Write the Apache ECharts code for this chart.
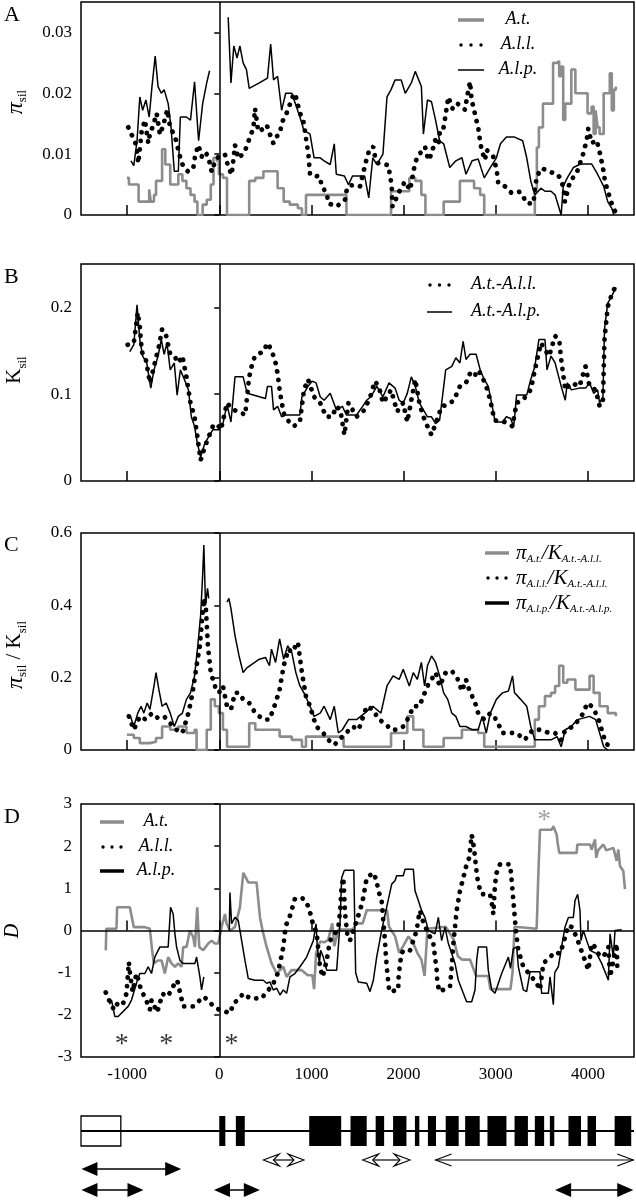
<!DOCTYPE html>
<html><head><meta charset="utf-8">
<script src="https://cdn.jsdelivr.net/npm/echarts@6/dist/echarts.min.js"></script>
<style>html,body{margin:0;padding:0;background:#fff}#c{width:636px;height:1200px}</style>
</head><body><div id="c"></div>
<script>
// ---------- ticks ----------
const xTicks = [-1000, 0, 1000, 2000, 3000, 4000];
const aTicks = [0, 0.01, 0.02, 0.03];
const bTicks = [0, 0.1, 0.2];
const cTicks = [0, 0.2, 0.4, 0.6];
const dTicks = [-3, -2, -1, 0, 1, 2, 3];

// ---------- panel A : pi_sil ----------
const piAt = [[-1002,0.0061],[-980,0.0050],[-875,0.0022],[-760,0.0042],[-743,0.0022],[-708,0.0033],[-686,0.0056],[-620,0.0108],[-585,0.0083],[-532,0.0050],[-444,0.0067],[-400,0.0056],[-356,0.0044],[-312,0.0033],[-268,0.0022],[-237,0],[-180,0.0017],[-136,0.0025],[-92,0.0050],[-62,0.0094],[-26,0.0089],[-4,0.0067],[40,0.0061],[84,0],[325,0.0056],[391,0.0061],[479,0.0072],[633,0.0044],[699,0.0022],[765,0.0017],[853,0.0011],[897,0],[941,0.0033],[1380,0],[1864,0.0039],[2062,0.0061],[2127,0.0056],[2193,0.0033],[2237,0],[2435,0.0022],[2611,0.0056],[2765,0.0044],[2831,0.0033],[2875,0],[3424,0.0044],[3446,0.0111],[3468,0.0144],[3512,0.0183],[3622,0.0250],[3666,0.0253],[3688,0.0228],[3710,0.0244],[3732,0.0156],[3754,0.0183],[3820,0.0239],[3864,0.0200],[3996,0.0167],[4040,0.0178],[4062,0.0133],[4084,0.0172],[4105,0.0144],[4127,0.0133],[4171,0.0200],[4237,0.0233],[4259,0.0172],[4281,0.0206],[4303,0.0211]];
const piAll = [[-987,0.0144],[-914,0.0120],[-896,0.0112],[-878,0.0085],[-842,0.0137],[-806,0.0156],[-770,0.0118],[-751,0.0134],[-715,0.0148],[-679,0.0167],[-643,0.0132],[-607,0.0148],[-564,0.0173],[-534,0.0145],[-480,0.0129],[-462,0.0118],[-426,0.0096],[-390,0.0079],[-336,0.0071],[-282,0.0077],[-263,0.0096],[-227,0.0115],[-190,0.0096],[-155,0.0104],[-119,0.0096],[-82,0.0071],[-46,0.0088],[8,0.0099],[62,0.0099],[98,0.0079],[135,0.0066],[171,0.0115],[207,0.0093],[261,0.0101],[298,0.0112],[334,0.0129],[370,0.0142],[388,0.0175],[424,0.0137],[460,0.0140],[515,0.0148],[551,0.0132],[587,0.0118],[623,0.0129],[659,0.0134],[677,0.0151],[713,0.0162],[749,0.0173],[786,0.0192],[822,0.0200],[858,0.0178],[876,0.0167],[912,0.0156],[949,0.0118],[967,0.0101],[985,0.0066],[1093,0.0063],[1111,0.0047],[1166,0.0036],[1184,0.0019],[1274,0.0014],[1364,0.0025],[1383,0.0041],[1418,0.0049],[1527,0.0047],[1600,0.0093],[1635,0.0110],[1672,0.0112],[1690,0.0096],[1726,0.0085],[1834,0.0082],[1852,0.0066],[1870,0.0049],[1880,0.0014],[1961,0.0041],[2015,0.0055],[2070,0.0041],[2124,0.0085],[2160,0.0099],[2197,0.0104],[2233,0.0112],[2269,0.0090],[2305,0.0101],[2342,0.0123],[2378,0.0115],[2396,0.0140],[2432,0.0142],[2450,0.0159],[2486,0.0194],[2530,0.0175],[2576,0.0184],[2630,0.0178],[2666,0.0173],[2684,0.0189],[2703,0.0205],[2721,0.0219],[2739,0.0189],[2764,0.0173],[2811,0.0142],[2829,0.0123],[2847,0.0107],[2883,0.0090],[2901,0.0107],[2973,0.0096],[3010,0.0074],[3027,0.0052],[3100,0.0047],[3173,0.0036],[3263,0.0038],[3299,0.0030],[3336,0.0019],[3408,0.0019],[3444,0.0063],[3499,0.0077],[3589,0.0071],[3679,0.0066],[3733,0.0047],[3750,0.0022],[3805,0.0055],[3878,0.0069],[3914,0.0085],[3950,0.0101],[3986,0.0123],[4004,0.0142],[4041,0.0118],[4095,0.0123],[4131,0.0101],[4167,0.0074],[4185,0.0055],[4222,0.0036],[4258,0.0019],[4312,0]];
const piAlp = [[-958,0.0089],[-927,0.0081],[-892,0.0122],[-862,0.0194],[-831,0.0172],[-796,0.0189],[-760,0.0161],[-730,0.0211],[-695,0.0261],[-664,0.0211],[-629,0.0200],[-598,0.0206],[-554,0.0183],[-523,0.0144],[-488,0.0072],[-444,0.0072],[-422,0.0161],[-356,0.0161],[-312,0.0156],[-268,0.0219],[-224,0.0122],[-180,0.0183],[-136,0.0217],[-105,0.0237],[0,'-'],[97,0.0325],[127,0.0217],[158,0.0278],[193,0.0258],[224,0.0278],[259,0.0250],[295,0.0239],[325,0.0208],[435,0.0217],[523,0.0225],[558,0.0281],[589,0.0222],[633,0.0228],[677,0.0172],[721,0.0200],[787,0.0200],[875,0.0161],[919,0.0139],[985,0.0133],[1029,0.0094],[1095,0.0094],[1138,0.0089],[1204,0.0083],[1248,0.0117],[1270,0.0067],[1358,0.0064],[1402,0.0050],[1446,0.0064],[1578,0.0064],[1622,0.0028],[1666,0.0094],[1710,0.0083],[1776,0.0100],[1820,0.0194],[1864,0.0206],[1908,0.0222],[1974,0.0222],[2018,0.0200],[2084,0.0217],[2127,0.0236],[2193,0.0211],[2215,0.0133],[2259,0.0189],[2303,0.0186],[2347,0.0156],[2391,0.0122],[2435,0.0117],[2501,0.0078],[2567,0.0089],[2633,0.0094],[2677,0.0067],[2743,0.0089],[2809,0.0092],[2875,0.0061],[2941,0.0078],[3007,0.0094],[3051,0.0117],[3116,0.0128],[3204,0.0128],[3292,0.0122],[3336,0.0094],[3380,0.0056],[3424,0.0033],[3490,0.0044],[3534,0.0039],[3600,0.0039],[3644,0.0033],[3710,0],[3732,0.0047],[3776,0.0061],[3842,0.0078],[3908,0.0083],[3952,0.0084],[4040,0.0084],[4105,0.0067],[4171,0.0047],[4215,0.0022],[4259,0.0011],[4281,0]];

// ---------- panel B : K_sil ----------
const kAll = [[-993,0.157],[-927,0.159],[-884,0.194],[-862,0.178],[-840,0.149],[-796,0.140],[-752,0.113],[-708,0.132],[-655,0.155],[-620,0.175],[-576,0.167],[-532,0.146],[-488,0.144],[-444,0.136],[-400,0.144],[-356,0.120],[-312,0.090],[-268,0.074],[-237,0.051],[-202,0.024],[-158,0.039],[-114,0.051],[-70,0.063],[-26,0.066],[18,0.059],[84,0.090],[149,0.082],[215,0.080],[281,0.076],[325,0.120],[369,0.140],[413,0.146],[479,0.149],[523,0.159],[567,0.151],[611,0.136],[633,0.124],[655,0.105],[699,0.078],[743,0.070],[809,0.063],[875,0.068],[919,0.105],[963,0.117],[1029,0.097],[1095,0.090],[1160,0.074],[1226,0.074],[1270,0.086],[1314,0.082],[1358,0.053],[1402,0.090],[1490,0.074],[1578,0.082],[1644,0.099],[1688,0.115],[1732,0.109],[1776,0.090],[1820,0.097],[1864,0.105],[1930,0.080],[1996,0.090],[2040,0.068],[2084,0.093],[2127,0.117],[2171,0.090],[2215,0.074],[2259,0.063],[2303,0.053],[2347,0.066],[2413,0.086],[2479,0.088],[2545,0.093],[2611,0.109],[2677,0.113],[2721,0.124],[2765,0.120],[2809,0.128],[2853,0.120],[2897,0.109],[2941,0.093],[2985,0.070],[3095,0.068],[3182,0.063],[3226,0.090],[3292,0.093],[3380,0.105],[3424,0.128],[3490,0.159],[3534,0.151],[3578,0.144],[3644,0.167],[3688,0.163],[3710,0.140],[3754,0.105],[3820,0.113],[3908,0.109],[3974,0.132],[4018,0.109],[4084,0.105],[4127,0.086],[4163,0.093],[4180,0.163],[4215,0.201],[4259,0.215],[4303,0.225]];
const kAlp = [[-971,0.149],[-927,0.157],[-892,0.203],[-862,0.163],[-831,0.144],[-787,0.136],[-743,0.107],[-708,0.128],[-664,0.144],[-629,0.163],[-598,0.146],[-567,0.159],[-532,0.128],[-488,0.136],[-457,0.099],[-422,0.128],[-378,0.117],[-334,0.105],[-303,0.074],[-268,0.063],[-237,0.043],[-202,0.028],[-158,0.043],[-114,0.051],[-70,0.059],[-4,0.059],[40,0.066],[84,0.088],[127,0.068],[171,0.120],[259,0.120],[303,0.101],[501,0.095],[523,0.109],[567,0.109],[589,0.082],[633,0.086],[677,0.074],[721,0.076],[875,0.076],[897,0.097],[963,0.109],[1007,0.115],[1051,0.113],[1095,0.097],[1138,0.093],[1204,0.101],[1270,0.082],[1336,0.086],[1380,0.076],[1490,0.076],[1556,0.086],[1600,0.093],[1644,0.097],[1710,0.109],[1776,0.097],[1842,0.113],[1908,0.107],[1952,0.093],[1996,0.090],[2040,0.101],[2084,0.120],[2127,0.109],[2171,0.090],[2215,0.082],[2259,0.074],[2303,0.074],[2347,0.066],[2391,0.070],[2457,0.128],[2523,0.132],[2567,0.142],[2611,0.136],[2646,0.161],[2677,0.140],[2721,0.146],[2787,0.146],[2831,0.128],[2875,0.117],[2919,0.109],[2962,0.086],[2993,0.068],[3073,0.068],[3116,0.074],[3160,0.072],[3195,0.063],[3226,0.099],[3336,0.099],[3380,0.117],[3424,0.132],[3468,0.163],[3534,0.163],[3556,0.128],[3600,0.144],[3644,0.136],[3710,0.109],[3754,0.093],[3776,0.113],[3820,0.105],[3908,0.107],[3974,0.107],[4018,0.113],[4062,0.101],[4105,0.105],[4127,0.090],[4163,0.097],[4180,0.175],[4215,0.205],[4259,0.213],[4303,0.223]];

// ---------- panel C : pi / K ----------
const rAt = [[-1002,0.042],[-927,0.033],[-862,0.019],[-752,0.023],[-686,0.033],[-620,0.065],[-532,0.056],[-444,0.065],[-356,0.047],[-268,0.056],[-246,0],[-136,0.056],[-92,0.140],[-48,0.121],[-4,0.102],[40,0.056],[84,0.009],[325,0.074],[391,0.056],[655,0.037],[787,0.028],[897,0.009],[941,0.037],[1349,0.009],[1864,0.047],[2040,0.093],[2105,0.056],[2215,0.009],[2435,0.033],[2633,0.056],[2809,0.047],[2875,0.009],[3424,0.084],[3468,0.121],[3534,0.149],[3600,0.158],[3644,0.177],[3688,0.233],[3732,0.186],[3776,0.195],[3864,0.167],[4018,0.205],[4062,0.158],[4127,0.121],[4215,0.102],[4303,0.093]];
const rAll = [[-980,0.093],[-927,0.056],[-862,0.093],[-796,0.084],[-730,0.102],[-664,0.088],[-598,0.093],[-532,0.074],[-466,0.056],[-400,0.047],[-334,0.102],[-290,0.158],[-246,0.233],[-211,0.288],[-189,0.353],[-167,0.419],[-145,0.391],[-123,0.288],[-92,0.214],[-48,0.177],[-4,0.158],[40,0.177],[84,0.121],[127,0.112],[171,0.158],[215,0.158],[259,0.140],[325,0.130],[391,0.102],[479,0.084],[545,0.084],[611,0.130],[655,0.167],[699,0.233],[752,0.279],[787,0.270],[853,0.298],[897,0.214],[941,0.149],[985,0.121],[1051,0.065],[1116,0.051],[1182,0.028],[1248,0.014],[1336,0.037],[1446,0.065],[1512,0.056],[1600,0.121],[1666,0.112],[1732,0.084],[1798,0.074],[1864,0.056],[1930,0.056],[1996,0.065],[2062,0.093],[2105,0.121],[2171,0.121],[2215,0.149],[2259,0.177],[2303,0.195],[2347,0.214],[2391,0.177],[2457,0.214],[2523,0.219],[2589,0.195],[2633,0.163],[2677,0.195],[2721,0.158],[2765,0.140],[2809,0.102],[2875,0.084],[2941,0.102],[3007,0.084],[3073,0.047],[3160,0.047],[3226,0.047],[3314,0.028],[3402,0.056],[3490,0.056],[3578,0.047],[3644,0.047],[3710,0.028],[3754,0.056],[3842,0.065],[3930,0.093],[3996,0.130],[4040,0.121],[4105,0.093],[4149,0.056],[4193,0.019],[4259,0.005]];
const rAlp = [[-963,0.093],[-927,0.065],[-884,0.102],[-848,0.121],[-818,0.102],[-782,0.130],[-752,0.112],[-708,0.177],[-686,0.214],[-655,0.167],[-620,0.121],[-576,0.130],[-532,0.102],[-488,0.065],[-444,0.093],[-400,0.102],[-356,0.140],[-312,0.158],[-268,0.205],[-233,0.288],[-202,0.372],[-180,0.484],[-167,0.567],[-149,0.400],[-127,0.447],[-114,0.419],[0,'-'],[84,0.409],[105,0.419],[127,0.391],[171,0.316],[215,0.260],[259,0.214],[303,0.228],[435,0.251],[501,0.256],[545,0.233],[567,0.279],[611,0.242],[655,0.307],[699,0.251],[743,0.288],[787,0.270],[831,0.214],[875,0.177],[919,0.158],[985,0.121],[1029,0.093],[1095,0.102],[1138,0.121],[1204,0.084],[1248,0.121],[1292,0.047],[1336,0.056],[1402,0.084],[1490,0.084],[1578,0.102],[1666,0.121],[1754,0.102],[1820,0.177],[1886,0.205],[1952,0.195],[1996,0.223],[2062,0.177],[2105,0.214],[2149,0.195],[2193,0.242],[2228,0.177],[2259,0.233],[2303,0.260],[2347,0.242],[2391,0.205],[2435,0.158],[2479,0.140],[2523,0.102],[2567,0.093],[2611,0.065],[2677,0.065],[2743,0.056],[2809,0.056],[2853,0.093],[2897,0.047],[2941,0.102],[3007,0.140],[3073,0.158],[3138,0.163],[3182,0.205],[3204,0.158],[3270,0.140],[3336,0.121],[3380,0.065],[3424,0.028],[3600,0.028],[3666,0.037],[3710,0.009],[3754,0.056],[3820,0.065],[3886,0.084],[4018,0.093],[4084,0.084],[4127,0.047],[4171,0.009],[4215,0]];

// ---------- panel D : Tajima's D ----------
const dAt = [[-1231,-0.47],[-1225,0.04],[-1115,0.04],[-1108,0.55],[-970,0.55],[-952,0.35],[-927,0.08],[-807,0.08],[-753,0.04],[-728,-0.47],[-710,-0.78],[-666,-0.71],[-626,-0.71],[-590,-1.02],[-554,-0.63],[-518,-0.78],[-481,-0.86],[-445,-0.78],[-409,-0.86],[-391,-0.39],[-355,-0.39],[-319,0],[-282,-0.16],[-264,-0.39],[-239,0.55],[-217,-0.39],[-174,-0.47],[-119,-0.31],[-83,-0.24],[-47,-0.31],[-11,-0.31],[25,0.08],[62,0.39],[80,0.16],[116,0],[170,0.08],[224,0.55],[261,1.37],[315,1.14],[405,1.14],[442,0.31],[470,0],[514,-0.39],[568,-0.78],[622,-1.02],[695,-0.86],[731,-1.1],[785,-0.94],[894,-0.94],[960,-1.06],[1010,-1.06],[1029,-1.39],[1051,-0.53],[1095,-0.26],[1138,-0.28],[1182,-0.22],[1226,0.17],[1248,-0.37],[1292,0.02],[1446,0.02],[1490,0.17],[1556,0.17],[1600,0.48],[1820,0.48],[1842,0.09],[1908,-0.14],[1952,-0.53],[1996,-0.37],[2053,-0.14],[2105,-0.3],[2149,-0.53],[2193,-0.69],[2228,-1.08],[2259,0.04],[2457,0.09],[2545,-0.22],[2589,-0.61],[2633,-0.69],[2721,-0.69],[2787,-1.08],[2919,-1.08],[2941,-1.39],[3160,-1.39],[3182,-1.0],[3204,0.09],[3444,0.04],[3462,1.33],[3480,2.39],[3607,2.39],[3625,2.47],[3661,2.27],[3679,1.96],[3690,1.84],[3878,1.84],[3885,2.04],[4023,2.04],[4040,1.92],[4077,2.16],[4090,1.73],[4110,1.9],[4167,2.04],[4200,1.9],[4276,1.96],[4312,1.65],[4330,1.92],[4348,1.53],[4384,1.41],[4402,0.98]];
const dAll = [[-1231,-1.47],[-1195,-1.65],[-1169,-1.8],[-1133,-1.88],[-1097,-1.69],[-1043,-1.73],[-1006,-1.49],[-981,-0.75],[-970,-0.98],[-941,-1.45],[-898,-1.02],[-843,-1.45],[-807,-1.57],[-753,-1.88],[-735,-1.65],[-673,-1.94],[-615,-1.5],[-565,-1.57],[-528,-1.45],[-492,-1.29],[-456,-1.18],[-427,-1.45],[-391,-1.8],[-282,-1.8],[-228,-1.69],[-174,-1.57],[-119,-1.65],[-65,-1.8],[0,-1.88],[62,-1.92],[116,-1.96],[159,-1.71],[206,-1.65],[261,-1.49],[333,-1.61],[460,-1.61],[514,-1.45],[568,-1.33],[623,-1.1],[659,-0.78],[695,-0.39],[713,-0.04],[731,0.16],[767,0.35],[821,0.75],[894,0.78],[948,0.67],[985,0.43],[1021,0.12],[1057,-0.04],[1075,-0.47],[1093,-0.86],[1122,-1.1],[1166,-0.71],[1202,-0.24],[1245,-0.12],[1292,0.08],[1310,0.43],[1328,1.06],[1347,1.25],[1365,0.4],[1390,-0.1],[1418,-0.24],[1470,0.1],[1527,0.47],[1563,0.78],[1600,1.25],[1672,1.37],[1708,1.18],[1726,0.94],[1762,0.71],[1780,0.24],[1798,-0.24],[1809,-0.63],[1824,-1.02],[1845,-1.45],[1943,-1.41],[1943,-1.18],[1961,-0.78],[1979,-0.55],[1997,-0.47],[2070,-0.47],[2142,0],[2160,0.27],[2178,0.47],[2214,0.2],[2269,-0.08],[2323,-0.31],[2341,-0.63],[2359,-0.94],[2366,-1.22],[2388,-1.45],[2504,-1.33],[2522,-0.86],[2540,-0.31],[2558,0.08],[2576,0.47],[2612,0.94],[2648,1.25],[2684,1.57],[2713,1.73],[2739,2.27],[2764,1.96],[2775,1.73],[2793,1.37],[2811,1.1],[2847,0.86],[2938,0.86],[2956,0.67],[2974,0.39],[2992,1.1],[3010,1.37],[3046,1.57],[3155,1.57],[3173,1.18],[3191,0.71],[3209,0.24],[3227,-0.16],[3245,-0.47],[3299,-0.86],[3390,-1.1],[3444,-1.25],[3480,-1.41],[3516,-0.78],[3589,-0.63],[3643,-0.51],[3697,-0.55],[3733,-0.31],[3788,0.12],[3824,0.08],[3878,-0.16],[3914,-0.39],[3968,-0.71],[4005,-0.94],[4041,-0.31],[4077,-0.39],[4113,-0.55],[4167,-0.63],[4222,-0.39],[4240,-1.1],[4276,-0.71],[4312,-0.31],[4320,-1.02]];
const dAlp = [[-1190,-1.75],[-1169,-1.65],[-1133,-2.04],[-1097,-2.04],[-988,-1.8],[-952,-1.65],[-898,-1.25],[-862,-1.02],[-807,-1.02],[-771,-0.86],[-735,-1.02],[-699,-0.63],[-644,-0.39],[-554,-0.39],[-528,0.55],[-500,0.39],[-481,-0.08],[-463,-0.39],[-427,-0.71],[-391,-0.78],[-264,-0.78],[-246,-0.63],[-210,-1.1],[-192,-1.41],[-167,-1.1],[0,'-'],[109,0],[116,0.9],[134,0.16],[170,0.31],[206,0.24],[243,-0.24],[279,-0.71],[315,-1.14],[387,-1.18],[478,-1.18],[514,-1.25],[550,-1.22],[586,-1.41],[623,-1.37],[659,-1.53],[695,-1.41],[731,-1.49],[767,-1.1],[821,-1.02],[876,-0.86],[948,-0.63],[1021,-0.24],[1050,0.16],[1064,-0.39],[1086,-0.78],[1100,-0.47],[1129,-0.63],[1166,-0.94],[1274,-0.94],[1292,-0.39],[1310,0.16],[1328,1.25],[1358,1.43],[1460,1.43],[1480,-1.0],[1509,-1.22],[1600,-1.25],[1636,-1.45],[1672,-1.18],[1708,-0.63],[1762,0],[1816,0.55],[1871,1.1],[1907,1.18],[1925,1.3],[1997,1.3],[2015,1.45],[2106,1.45],[2124,0.94],[2160,0.71],[2196,0.47],[2232,0.31],[2269,0],[2341,-0.08],[2377,0.31],[2413,-0.24],[2449,0.08],[2486,-0.31],[2558,-0.78],[2594,-1.18],[2648,-1.49],[2684,-1.69],[2739,-1.69],[2775,-1.41],[2793,-0.71],[2811,-0.39],[2901,-0.39],[2919,-0.94],[2956,-1.41],[2992,-1.49],[3064,-1.02],[3137,-0.63],[3160,-0.9],[3191,-0.43],[3227,-0.39],[3245,-0.86],[3299,-1.41],[3335,-1.45],[3372,-0.98],[3480,-0.98],[3498,-1.49],[3571,-1.49],[3589,-1.1],[3625,-1.76],[3640,-1.0],[3679,-0.86],[3715,-0.39],[3751,0.08],[3788,0.31],[3842,0.31],[3860,0.71],[3889,0.86],[3914,0.47],[3925,-0.24],[3950,0],[3987,-0.24],[4023,-0.47],[4095,-0.55],[4149,-0.78],[4222,-1.18],[4240,-0.08],[4276,-0.63],[4294,0],[4366,0.02]];
const starsBlack = [[-1059,-2.7],[-576,-2.7],[132,-2.7]];
const starsGray = [[3525,2.6]];

// ---------- gene model ----------
const geneSpan = [[-1500, 4500]];
const utrBox = [[-1500, -1068]];
const exons = [[0,66],[180,277],[976,1323],[1424,1600],[1697,1789],[1886,2031],[2123,2171],[2264,2352],[2457,2598],[2668,2826],[2910,3116],[3204,3349],[3424,3525],[3587,3635],[3789,3925],[3996,4088],[4290,4470]];
// [start, end, row(0 open,1 black upper,2 black lower), style(0 filled,1 open barbed,2 open chevron)]
const arrows = [[479,919,0,1],[1556,2070,0,1],[2347,4492,0,2],[-1495,-413,1,0],[-1495,-822,2,0],[-57,440,2,0],[3644,4492,2,0]];

// ---------- chart ----------
const FONT = 'Liberation Serif';
const GRAY = '#8c8c8c';
const chart = echarts.init(document.getElementById('c'), null, {renderer: 'canvas'});

const gridDefs = [
  {top: 2, height: 213}, {top: 264, height: 217}, {top: 533, height: 217}, {top: 804, height: 253}, {top: 1105, height: 95}
];
const grids = gridDefs.map((g, i) => ({
  left: 81, width: 553, top: g.top, height: g.height, show: i < 4,
  borderColor: '#000', borderWidth: 1.5, backgroundColor: 'transparent', outerBoundsMode: 'none', containLabel: false
}));

const xAxes = [0,1,2,3,4].map(i => ({
  type: 'value', gridIndex: i, min: -1500, max: 4500, show: i < 4,
  axisLine: {show: false}, splitLine: {show: false},
  axisTick: {show: i < 4, inside: true, length: 10, customValues: xTicks, lineStyle: {color: '#000', width: 1.5}},
  axisLabel: {show: i === 3, customValues: xTicks, color: '#000', fontFamily: FONT, fontSize: 17, margin: 9, formatter: v => String(v)}
}));
const yDefs = [[0, 0.035, aTicks], [0, 0.25, bTicks], [0, 0.6, cTicks], [-3, 3, dTicks]];
const yAxes = yDefs.map((d, i) => ({
  type: 'value', gridIndex: i, min: d[0], max: d[1],
  axisLine: {show: false}, splitLine: {show: false},
  axisTick: {show: true, inside: false, length: 5, customValues: d[2], lineStyle: {color: '#000', width: 1.5}},
  axisLabel: {customValues: d[2], color: '#000', fontFamily: FONT, fontSize: 17, margin: 9, formatter: v => String(v)}
}));
yAxes.push({type: 'value', gridIndex: 4, min: 0, max: 95, inverse: true, show: false});

const vLine = (extra) => ({
  silent: true, symbol: ['none', 'none'], label: {show: false}, animation: false,
  lineStyle: {color: '#000', width: 1.5, type: 'solid'},
  data: [{xAxis: 0}].concat(extra || [])
});
function line(data, gi, kind, opts) {
  const s = {type: 'line', xAxisIndex: gi, yAxisIndex: gi, data: data, symbol: 'none', showSymbol: false,
    animation: false, silent: true, connectNulls: false};
  if (kind === 'gray') { s.lineStyle = {color: GRAY, width: 2.6}; s.z = 2; }
  if (kind === 'dots') { s.lineStyle = {color: '#000', width: 4.8, type: [0.1, 8.5], cap: 'round'}; s.z = 3; }
  if (kind === 'black') { s.lineStyle = {color: '#000', width: 1.5}; s.z = 4; }
  return Object.assign(s, opts || {});
}

const series = [
  line(piAt, 0, 'gray', {step: 'end'}), line(piAll, 0, 'dots'), line(piAlp, 0, 'black', {markLine: vLine()}),
  line(kAll, 1, 'dots'), line(kAlp, 1, 'black', {markLine: vLine()}),
  line(rAt, 2, 'gray', {step: 'end'}), line(rAll, 2, 'dots'), line(rAlp, 2, 'black', {markLine: vLine()}),
  line(dAt, 3, 'gray'), line(dAll, 3, 'dots'), line(dAlp, 3, 'black', {markLine: vLine([{yAxis: 0}])}),
  {type: 'scatter', xAxisIndex: 3, yAxisIndex: 3, data: starsBlack, symbolSize: 1, itemStyle: {color: 'rgba(0,0,0,0)'}, silent: true, animation: false,
   label: {show: true, position: 'inside', formatter: '*', color: '#000', fontFamily: FONT, fontSize: 28}},
  {type: 'scatter', xAxisIndex: 3, yAxisIndex: 3, data: starsGray, symbolSize: 1, itemStyle: {color: 'rgba(0,0,0,0)'}, silent: true, animation: false,
   label: {show: true, position: 'inside', formatter: '*', color: GRAY, fontFamily: FONT, fontSize: 28}},
  // gene model
  {type: 'custom', xAxisIndex: 4, yAxisIndex: 4, data: utrBox, silent: true, animation: false, z: 1,
   renderItem: (p, api) => { const a = api.coord([api.value(0), 11]), b = api.coord([api.value(1), 41]);
     return {type: 'rect', shape: {x: a[0], y: a[1], width: b[0] - a[0], height: b[1] - a[1]}, style: {fill: '#fff', stroke: '#000', lineWidth: 1.3}}; }},
  {type: 'custom', xAxisIndex: 4, yAxisIndex: 4, data: geneSpan, silent: true, animation: false, z: 2,
   renderItem: (p, api) => { const a = api.coord([api.value(0), 26]), b = api.coord([api.value(1), 26]);
     return {type: 'line', shape: {x1: a[0], y1: a[1], x2: b[0], y2: b[1]}, style: {stroke: '#000', lineWidth: 2}}; }},
  {type: 'custom', xAxisIndex: 4, yAxisIndex: 4, data: exons, silent: true, animation: false, z: 3,
   renderItem: (p, api) => { const a = api.coord([api.value(0), 11]), b = api.coord([api.value(1), 41]);
     return {type: 'rect', shape: {x: a[0], y: a[1], width: b[0] - a[0], height: b[1] - a[1]}, style: {fill: '#000'}}; }},
  {type: 'custom', xAxisIndex: 4, yAxisIndex: 4, data: arrows, silent: true, animation: false, z: 3,
   renderItem: (p, api) => {
     const rowY = [55, 64, 85][api.value(2)];
     const a = api.coord([api.value(0), rowY]), b = api.coord([api.value(1), rowY]);
     const x0 = a[0], x1 = b[0], y = a[1], st = api.value(3);
     const L = 16, H = st === 0 ? 7 : 6;
     const ch = [];
     if (st === 0) {
       ch.push({type: 'line', shape: {x1: x0 + 4, y1: y, x2: x1 - 4, y2: y}, style: {stroke: '#000', lineWidth: 1.6}});
       ch.push({type: 'polygon', shape: {points: [[x0, y], [x0 + L, y - H], [x0 + L, y + H]]}, style: {fill: '#000'}});
       ch.push({type: 'polygon', shape: {points: [[x1, y], [x1 - L, y - H], [x1 - L, y + H]]}, style: {fill: '#000'}});
     } else if (st === 1) {
       ch.push({type: 'line', shape: {x1: x0 + 10, y1: y, x2: x1 - 10, y2: y}, style: {stroke: '#000', lineWidth: 1.2}});
       ch.push({type: 'polygon', shape: {points: [[x0, y], [x0 + L, y - H], [x0 + 10, y], [x0 + L, y + H]]}, style: {fill: '#fff', stroke: '#000', lineWidth: 1.1}});
       ch.push({type: 'polygon', shape: {points: [[x1, y], [x1 - L, y - H], [x1 - 10, y], [x1 - L, y + H]]}, style: {fill: '#fff', stroke: '#000', lineWidth: 1.1}});
     } else {
       ch.push({type: 'line', shape: {x1: x0, y1: y, x2: x1, y2: y}, style: {stroke: '#000', lineWidth: 1.1}});
       ch.push({type: 'polyline', shape: {points: [[x0 + L, y - H], [x0, y], [x0 + L, y + H]]}, style: {fill: null, stroke: '#000', lineWidth: 1.1}});
       ch.push({type: 'polyline', shape: {points: [[x1 - L, y - H], [x1, y], [x1 - L, y + H]]}, style: {fill: null, stroke: '#000', lineWidth: 1.1}});
     }
     return {type: 'group', children: ch};
   }}
];

// ---------- graphic: letters, axis names, legends ----------
const G = [];
[['A', 4], ['B', 266], ['C', 534], ['D', 806]].forEach(([t, y]) =>
  G.push({type: 'text', x: 4, y: y, style: {text: t, fill: '#000', font: '22px ' + FONT}}));

const nameRich = {
  p: {fontFamily: FONT, fontSize: 24, fontStyle: 'italic', lineHeight: 22, verticalAlign: 'top'},
  k: {fontFamily: FONT, fontSize: 21, lineHeight: 22, verticalAlign: 'top'},
  d: {fontFamily: FONT, fontSize: 20, fontStyle: 'italic', lineHeight: 22, verticalAlign: 'top'},
  s: {fontFamily: FONT, fontSize: 13, lineHeight: 13, verticalAlign: 'top', padding: [12, 0, 0, 0]},
  sl: {fontFamily: FONT, fontSize: 21, lineHeight: 22, verticalAlign: 'top'}
};
function yName(text, x, y) {
  G.push({type: 'text', x: x, y: y, rotation: Math.PI / 2,
    style: {text: text, rich: nameRich, fill: '#000', align: 'center', verticalAlign: 'middle', font: '20px ' + FONT}});
}
yName('{p|π}{s|sil}', 15, 102);
yName('{k|K}{s|sil}', 15, 370);
yName('{p|π}{s|sil}{sl| / }{k|K}{s|sil}', 15, 655);
yName('{d|D}', 14, 931);

function icon(kind, x0, x1, y) {
  if (kind === 'dots') {
    const m = (x0 + x1) / 2;
    [x0 + 3, m, x1 - 3].forEach(cx => G.push({type: 'circle', shape: {cx: cx, cy: y, r: 1.7}, style: {fill: '#000'}}));
  } else {
    const w = kind === 'thin' ? 1.5 : 3.5;
    const c = kind === 'gray' ? GRAY : '#000';
    G.push({type: 'line', shape: {x1: x0, y1: y, x2: x1, y2: y}, style: {stroke: c, lineWidth: w}});
  }
}
const legRich = {
  i: {fontFamily: FONT, fontSize: 18, fontStyle: 'italic', lineHeight: 20, verticalAlign: 'top'},
  p: {fontFamily: FONT, fontSize: 21, fontStyle: 'italic', lineHeight: 20, verticalAlign: 'top'},
  s: {fontFamily: FONT, fontSize: 11, fontStyle: 'italic', lineHeight: 11, verticalAlign: 'top', padding: [11, 0, 0, 0]}
};
function legText(text, x, y, align) {
  G.push({type: 'text', x: x, y: y, style: {text: text, rich: legRich, fill: '#000', align: align, verticalAlign: 'middle', font: 'italic 18px ' + FONT}});
}
// A
[['gray', '{i|A.t.}', 20], ['dots', '{i|A.l.l.}', 45], ['thin', '{i|A.l.p.}', 70]].forEach(([k, t, y]) => { icon(k, 458, 484, y); legText(t, 518, y, 'center'); });
// B
[['dots', '{i|A.t.-A.l.l.}', 285], ['thin', '{i|A.t.-A.l.p.}', 312]].forEach(([k, t, y]) => { icon(k, 427, 452, y); legText(t, 471, y, 'left'); });
// C
[['gray', '{p|π}{s|A.t.}{p|/K}{s|A.t.-A.l.l.}', 553], ['dots', '{p|π}{s|A.l.l.}{p|/K}{s|A.t.-A.l.l.}', 578], ['thick', '{p|π}{s|A.l.p.}{p|/K}{s|A.t.-A.l.p.}', 603]]
  .forEach(([k, t, y]) => { icon(k, 485, 509, y); legText(t, 516, y, 'left'); });
// D
[['gray', '{i|A.t.}', 822], ['dots', '{i|A.l.l.}', 847], ['thick', '{i|A.l.p.}', 871]].forEach(([k, t, y]) => { icon(k, 100, 124, y); legText(t, 156, y, 'center'); });

chart.setOption({
  animation: false,
  backgroundColor: '#fff',
  grid: grids, xAxis: xAxes, yAxis: yAxes, series: series,
  graphic: {elements: G}
});
</script></body></html>
